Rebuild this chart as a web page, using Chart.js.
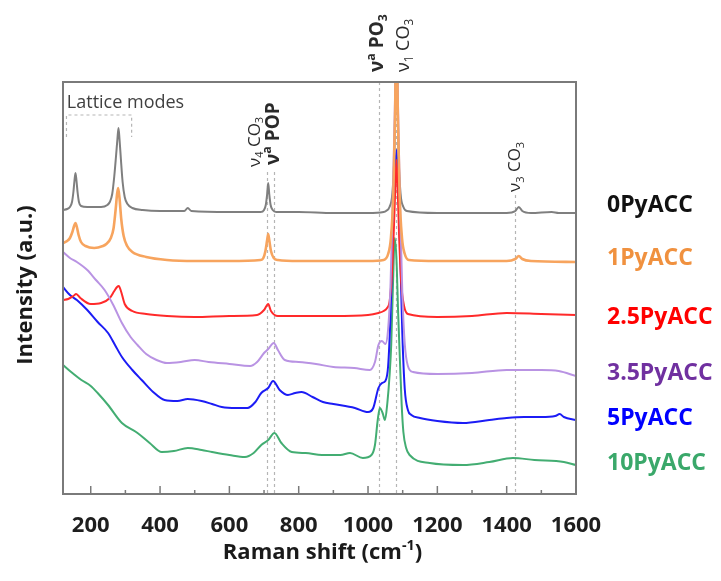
<!DOCTYPE html>
<html>
<head>
<meta charset="utf-8">
<script src="https://cdn.jsdelivr.net/npm/chart.js@4/dist/chart.umd.min.js"></script>
<style>
html,body{margin:0;padding:0;background:#fff;}
#c{display:block;}
</style>
</head>
<body>
<canvas id="c" width="721" height="581"></canvas>
<script>
// ---------------- DATA ----------------
const seriesNames = ["0PyACC","1PyACC","2.5PyACC","3.5PyACC","5PyACC","10PyACC"];
const xTicks = [200,400,600,800,1000,1200,1400,1600];
const xMinorTicks = [300,500,700,900,1100,1300,1500];
const markerLines = [708,730,1032,1080,1425];
const markerTops  = [322,322,412,412,299];

const s0x = [120,132,140,146,150,153,156,159,162,166,172,190,230,248,255,262,268,273,277,280,283,287,292,298,306,320,350,400,470,480,490,600,690,700,705,709,712,715,719,725,735,800,900,1000,1045,1052,1062,1070,1076,1082,1088,1094,1102,1112,1200,1300,1400,1425,1435,1445,1470,1530,1550,1600];
const s0y = [284,285,287,292,302,313,321,313,302,292,288,287,287,289,292,300,318,338,355,366,355,335,312,297,290,286,284,283,283,286,283,282,282,284,289,300,311,300,289,284,282,282,281,281,282,283,287,300,340,454,340,300,287,283,281,281,281,283,287,283,281,282,281,281];

const s1x = [120,132,140,147,152,156,160,165,172,185,210,235,245,258,266,272,276,279,283,288,295,305,320,360,420,500,600,690,698,704,709,712,715,720,728,740,800,900,1000,1045,1058,1066,1073,1078,1082,1086,1091,1098,1106,1118,1200,1300,1400,1425,1435,1445,1470,1600];
const s1y = [251,253,256,262,268,271,267,259,252,248,246,248,250,256,266,285,300,306,296,275,258,248,242,237,234,233,233,234,236,243,254,260,254,243,236,234,233,233,233,234,240,256,300,380,470,380,300,256,240,234,233,233,233,235,238,235,233,232];

const s2x = [120,135,150,158,170,200,230,255,268,276,281,288,298,320,360,420,500,600,680,700,712,720,740,800,900,1000,1030,1045,1055,1062,1068,1074,1078,1082,1086,1090,1096,1104,1115,1200,1300,1400,1500,1600];
const s2y = [194,195,198,200,196,190,191,196,203,207,208,202,190,183,180,178,177,178,179,184,190,183,178,178,178,179,181,183,186,192,215,260,300,334,300,255,210,188,180,177,178,181,180,179];

const s3x = [120,140,160,190,215,240,265,290,315,335,360,390,420,460,500,540,600,660,680,700,712,728,740,760,800,850,900,960,1005,1020,1030,1040,1050,1058,1065,1071,1077,1082,1087,1093,1099,1106,1115,1130,1200,1300,1400,1500,1550,1600];
const s3y = [242,236,232,224,214,204,189,171,157,149,140,134,131,132,134,132,130,128,132,141,145,151,144,134,132,130,127,126,124,132,149,153,150,165,210,290,380,454,380,280,200,150,128,122,120,121,124,124,123,118];

const s4x = [120,140,160,190,220,250,270,290,320,347,380,413,450,480,520,550,578,620,652,675,692,712,726,745,769,790,808,840,870,900,962,1000,1015,1030,1040,1050,1058,1065,1071,1077,1082,1087,1093,1099,1106,1115,1125,1150,1200,1274,1350,1400,1450,1500,1540,1553,1565,1600];
const s4y = [207,199,194,184,172,161,149,137,124,114,102,94,93,95,93,90,87,86,86,92,101,106,113,104,99,101,102,97,92,90,86,82,86,106,111,113,128,180,250,315,344,315,240,160,105,84,79,76,73,71,74,76,77,77,78,80,77,74];

const s5x = [120,140,173,200,220,250,290,335,370,405,440,480,520,550,600,645,670,692,712,730,750,780,820,867,920,948,985,1010,1020,1028,1034,1042,1049,1056,1062,1067,1072,1077,1082,1087,1092,1097,1102,1110,1120,1178,1274,1350,1418,1480,1565,1600];
const s5y = [129,123,114,108,101,89,71,61,51,42,43,46,44,42,39,37,41,49,54,61,51,42,41,39,39,41,36,39,49,74,86,81,74,92,118,150,210,256,235,180,134,90,62,46,39,31,29,32,36,34,32,29];

const lineColors  = ["#7f7f7f","#f7a45e","#ff2a2a","#b993e3","#1c1cf5","#43ad72"];
const labelColors = ["#111111","#f0913f","#ff0000","#7030a0","#0000ff","#3aa86a"];
const labelLevels = [289,236,177,121,76,31];
const seriesX = [s0x,s1x,s2x,s3x,s4x,s5x];
const seriesY = [s0y,s1y,s2y,s3y,s4y,s5y];

// ---------------- HELPERS ----------------
const FONT = '"Open Sans", "Liberation Sans", sans-serif';
function drawRich(ctx, segs, x, y, size, weight, color, rotate, align) {
  ctx.save();
  ctx.translate(x, y);
  if (rotate) ctx.rotate(-Math.PI / 2);
  ctx.fillStyle = color;
  ctx.textBaseline = 'middle';
  ctx.textAlign = 'left';
  let total = 0;
  const items = segs.map(s => {
    const mode = s[1] || '';
    const fs = mode ? size * 0.65 : size;
    const w = s[2] || weight;
    ctx.font = `${w} ${fs}px ${FONT}`;
    const width = ctx.measureText(s[0]).width;
    total += width;
    return {t: s[0], fs, w, width, dy: mode === 'sub' ? size * 0.32 : (mode === 'sup' ? -size * 0.33 : 0)};
  });
  let cx = align === 'center' ? -total / 2 : 0;
  items.forEach(it => {
    ctx.font = `${it.w} ${it.fs}px ${FONT}`;
    ctx.fillText(it.t, cx, it.dy);
    cx += it.width;
  });
  ctx.restore();
}

const decor = {
  id: 'decor',
  beforeDatasetsDraw(chart) {
    const {ctx, chartArea: a, scales: {x, y}} = chart;
    ctx.save();
    ctx.strokeStyle = '#b5b5b5';
    ctx.lineWidth = 1.2;
    ctx.setLineDash([3, 3]);
    markerLines.forEach((v, i) => {
      const px = Math.round(x.getPixelForValue(v)) + 0.5;
      ctx.beginPath();
      ctx.moveTo(px, y.getPixelForValue(markerTops[i]));
      ctx.lineTo(px, a.bottom);
      ctx.stroke();
    });
    const bx1 = x.getPixelForValue(130), bx2 = x.getPixelForValue(318);
    const by1 = y.getPixelForValue(379), by2 = y.getPixelForValue(357);
    ctx.beginPath();
    ctx.moveTo(bx1, by2); ctx.lineTo(bx1, by1); ctx.lineTo(bx2, by1); ctx.lineTo(bx2, by2);
    ctx.stroke();
    ctx.restore();
  },
  afterDatasetsDraw(chart) {
    const {ctx, chartArea: a, scales: {x, y}} = chart;
    ctx.save();
    ctx.strokeStyle = '#7a7a7a';
    ctx.lineWidth = 2;
    ctx.setLineDash([]);
    ctx.strokeRect(a.left, a.top, a.right - a.left, a.bottom - a.top);
    ctx.lineWidth = 1.5;
    xTicks.forEach(v => {
      const px = x.getPixelForValue(v);
      ctx.beginPath(); ctx.moveTo(px, a.bottom); ctx.lineTo(px, a.bottom - 8); ctx.stroke();
    });
    xMinorTicks.forEach(v => {
      const px = x.getPixelForValue(v);
      ctx.beginPath(); ctx.moveTo(px, a.bottom); ctx.lineTo(px, a.bottom - 4); ctx.stroke();
    });
    ctx.restore();

    drawRich(ctx, [['Lattice modes']], x.getPixelForValue(131), y.getPixelForValue(391), 18, 'normal', '#404040', false, 'left');
    drawRich(ctx, [['ν'], ['4', 'sub'], [' CO'], ['3', 'sub']], x.getPixelForValue(673), y.getPixelForValue(327), 17, 'normal', '#2a2a2a', true, 'left');
    drawRich(ctx, [['ν', '', 'bold'], ['a', 'sup', 'bold'], [' POP', '', 'bold']], x.getPixelForValue(729), y.getPixelForValue(329), 19, 'bold', '#2a2a2a', true, 'left');
    drawRich(ctx, [['ν', '', 'bold'], ['a', 'sup', 'bold'], [' PO', '', 'bold'], ['3', 'sub', 'bold']], x.getPixelForValue(1028), y.getPixelForValue(422), 19, 'bold', '#2a2a2a', true, 'left');
    drawRich(ctx, [['ν'], ['1', 'sub'], [' CO'], ['3', 'sub']], x.getPixelForValue(1103), y.getPixelForValue(422), 18, 'normal', '#2a2a2a', true, 'left');
    drawRich(ctx, [['ν'], ['3', 'sub'], [' CO'], ['3', 'sub']], x.getPixelForValue(1424), y.getPixelForValue(302), 17, 'normal', '#2a2a2a', true, 'left');

    seriesNames.forEach((n, i) => {
      drawRich(ctx, [[n]], a.right + 31, y.getPixelForValue(labelLevels[i]), 23, 'bold', labelColors[i], false, 'left');
    });

    drawRich(ctx, [['Raman shift (cm'], ['-1', 'sup'], [')']], (a.left + a.right) / 2 + 3, 553, 22, 'bold', '#1a1a1a', false, 'center');
    drawRich(ctx, [['Intensity (a.u.)']], 26, (a.top + a.bottom) / 2 - 3, 22, 'bold', '#1a1a1a', true, 'center');
  }
};

const datasets = seriesNames.map((n, i) => ({
  label: n,
  data: seriesX[i].map((v, k) => ({x: v, y: seriesY[i][k]})),
  borderColor: lineColors[i],
  borderWidth: i === 1 ? 2.6 : 2,
  pointRadius: 0,
  fill: false,
  cubicInterpolationMode: 'monotone',
  order: [2, 0, 3, 1, 4, 5][i]
}));

new Chart(document.getElementById('c'), {
  type: 'line',
  data: {datasets},
  options: {
    responsive: false,
    animation: false,
    events: [],
    layout: {padding: {left: 63, right: 145, top: 82, bottom: 0}},
    plugins: {legend: {display: false}, tooltip: {enabled: false}, title: {display: false}},
    scales: {
      x: {
        type: 'linear',
        min: 120, max: 1600,
        grid: {display: false, drawTicks: false},
        border: {display: false},
        afterBuildTicks: s => { s.ticks = xTicks.map(v => ({value: v})); },
        afterFit: s => { s.height = 87; },
        ticks: {
          color: '#1e1e1e',
          font: {family: FONT, size: 22, weight: 'bold'},
          padding: 19,
          maxRotation: 0,
          autoSkip: false,
          callback: v => String(v)
        }
      },
      y: {
        type: 'linear',
        display: false,
        min: 0, max: 412
      }
    }
  },
  plugins: [decor]
});
</script>
</body>
</html>
